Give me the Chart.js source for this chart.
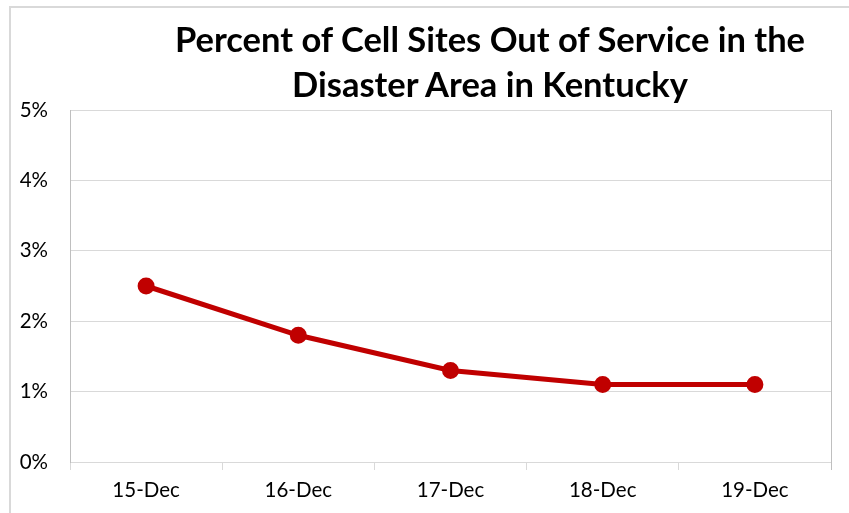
<!DOCTYPE html>
<html>
<head>
<meta charset="utf-8">
<script src="https://cdn.jsdelivr.net/npm/chart.js@4"></script>
<style>
  html, body { margin: 0; padding: 0; background: #fff; }
  #wrap { position: relative; width: 849px; height: 513px; overflow: hidden; }
  #frame { position: absolute; left: 9px; top: 6px; width: 900px; height: 600px;
           border-left: 2px solid #d9d9d9; border-top: 2px solid #d9d9d9; }
  #title { position: absolute; left: 90px; width: 800px; top: 16px; text-align: center;
           font-family: Lato, sans-serif; font-weight: bold; font-size: 34.5px; line-height: 45px; color: #000; }
  canvas { position: absolute; left: 0; top: 0; }
</style>
</head>
<body>
<div id="wrap">
  <div id="frame"></div>
  <canvas id="cellChart" width="849" height="513"></canvas>
  <div id="title">Percent of Cell Sites Out of Service in the<br>Disaster Area in Kentucky</div>
</div>
<script>
const dates = ['15-Dec', '16-Dec', '17-Dec', '18-Dec', '19-Dec'];
const pctOut = [2.5, 1.8, 1.3, 1.1, 1.1];
const yTicks = [0, 1, 2, 3, 4, 5];

document.addEventListener('DOMContentLoaded', function() {
    // plot area right border, like Excel's
    const plotBorder = {
        id: 'plotBorder',
        afterDraw(chart) {
            const a = chart.chartArea;
            const ctx = chart.ctx;
            ctx.save();
            ctx.strokeStyle = '#bfbfbf';
            ctx.lineWidth = 1;
            ctx.beginPath();
            ctx.moveTo(a.right + 0.5, a.top);
            ctx.lineTo(a.right + 0.5, a.bottom + 8);
            ctx.stroke();
            ctx.restore();
        }
    };

    const ctx = document.getElementById('cellChart').getContext('2d');
    const cellChart = new Chart(ctx, {
        type: 'line',
        data: {
            labels: dates,
            datasets: [{
                label: 'Percent out of service',
                data: pctOut,
                borderColor: '#c00000',
                backgroundColor: '#c00000',
                borderWidth: 5,
                pointRadius: 6,
                pointHoverRadius: 6,
                tension: 0
            }]
        },
        options: {
            responsive: false,
            animation: false,
            layout: { padding: { left: 10, right: 18, top: 110, bottom: 0 } },
            plugins: {
                legend: { display: false },
                title: { display: false },
                tooltip: { enabled: false }
            },
            scales: {
                x: {
                    offset: true,
                    afterFit: function(scale) { scale.height = 51; },
                    grid: { offset: true, drawOnChartArea: false, drawTicks: true, tickLength: 8, color: '#d9d9d9' },
                    border: { color: '#d9d9d9', width: 1 },
                    ticks: { color: '#000', padding: 8, font: { family: 'Lato', size: 20.5 } }
                },
                y: {
                    min: 0,
                    max: 5,
                    afterFit: function(scale) { scale.width = 60; },
                    afterBuildTicks: function(scale) { scale.ticks = yTicks.map(v => ({ value: v })); },
                    grid: { color: '#d9d9d9', drawTicks: false },
                    border: { color: '#bfbfbf', width: 1 },
                    ticks: { color: '#000', padding: 22, font: { family: 'Lato', size: 20.5 },
                             callback: function(v) { return v + '%'; } }
                }
            }
        },
        plugins: [plotBorder]
    });
});
</script>
</body>
</html>
